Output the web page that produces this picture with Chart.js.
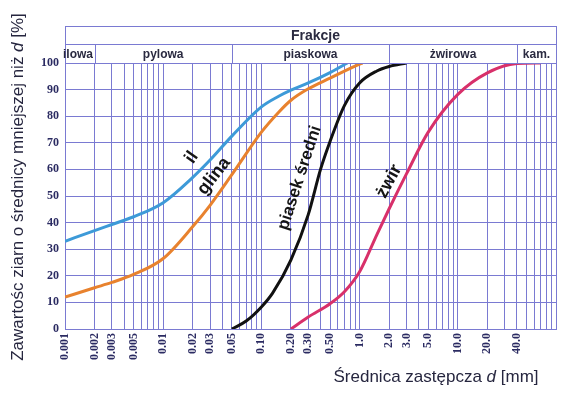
<!DOCTYPE html>
<html><head><meta charset="utf-8">
<script src="https://cdn.jsdelivr.net/npm/chart.js@4.4.1/dist/chart.umd.min.js"></script>
<style>html,body{margin:0;padding:0;background:#fff}#c{display:block}</style>
</head><body>
<canvas id="c" width="565" height="397"></canvas>
<script>
// ---- data ----
const ilD = [0.001,0.002,0.003,0.005,0.01,0.02,0.03,0.05,0.1,0.15,0.2,0.3,0.5,0.75];
const ilP = [33,37,39.3,42.2,47.5,57,63.5,72.5,83.5,87.5,89.8,92.5,96.4,100];
const glinaD = [0.001,0.002,0.003,0.005,0.01,0.02,0.03,0.05,0.1,0.15,0.2,0.3,0.5,1.0,1.07];
const glinaP = [12,15.5,17.5,20.5,26.5,38.5,46.5,58,74,81.5,86,90.3,94.3,99.6,100];
const piasekD = [0.05,0.07,0.1,0.13,0.2,0.3,0.4,0.5,0.7,1.0,1.5,2.0,3.0];
const piasekP = [0,3,8.3,13.5,26,43,60,70.5,84,92.5,97,98.7,100];
const zwirD = [0.2,0.3,0.5,0.7,1.0,1.5,2.0,3.0,5.0,10,20,40,70];
const zwirP = [0,4.5,9.5,14,21.5,35.5,45.2,58.3,74,88.2,96.3,99.8,100];
const seriesNames = ['il','glina','piasek średni','żwir'];
const xTickValues = [0.001,0.002,0.003,0.005,0.01,0.02,0.03,0.05,0.1,0.2,0.3,0.5,1,2,3,5,10,20,40];
const xTickLabels = ['0.001','0.002','0.003','0.005','0.01','0.02','0.03','0.05','0.10','0.20','0.30','0.50','1.0','2.0','3.0','5.0','10.0','20.0','40.0'];
const fractionBounds = [0.001,0.002,0.05,2,40,100];
const fractionNames = ['ilowa','pylowa','piaskowa','żwirowa','kam.'];
const headerTitle = 'Frakcje';
const yTitle = ['Zawartośc ziarn o średnicy mniejszej niż ','d',' [%]'];
const xTitle = ['Średnica zastępcza ','d',' [mm]'];
// label anchors (diameter, percent, angle)
const labelD = [0.0195,0.033,0.245,2.0];
const labelP = [64.5,57.5,56.8,55.5];
const labelAngle = [-55,-52,-72,-62];

const colors = ['#3d9ad8','#e8822e','#111111','#d8306a'];
const gridColor = '#7a7ad2';
const navy = '#2b2b62';

function pts(d,p){return d.map((v,i)=>({x:v,y:p[i]}));}
const allSeries = [[ilD,ilP],[glinaD,glinaP],[piasekD,piasekP],[zwirD,zwirP]];

// minor grid values 1..9 x decade
const gridVals=[];
for(let e=-3;e<=1;e++){for(let m=1;m<=9;m++){gridVals.push(parseFloat((m*Math.pow(10,e)).toPrecision(3)));}}
gridVals.push(100);

const overlay = {
  id:'overlay',
  afterDatasetsDraw(chart){
    const ctx=chart.ctx, xs=chart.scales.x, ys=chart.scales.y;
    ctx.save();
    ctx.fillStyle='#151515';
    for(let i=0;i<seriesNames.length;i++){
      const px=xs.getPixelForValue(labelD[i]), py=ys.getPixelForValue(labelP[i]);
      ctx.save();
      ctx.translate(px,py);
      ctx.rotate(labelAngle[i]*Math.PI/180);
      ctx.font='bold '+(i===2?17:18)+'px "Liberation Sans", Arial, sans-serif';
      ctx.textAlign='center';ctx.textBaseline='middle';
      ctx.fillText(seriesNames[i],0,0);
      ctx.restore();
    }
    ctx.restore();
  },
  afterDraw(chart){
    const ctx=chart.ctx, xs=chart.scales.x, a=chart.chartArea;
    ctx.save();
    // header box
    const top=a.top-37, mid=a.top-19;
    ctx.strokeStyle=gridColor;ctx.lineWidth=1;
    ctx.strokeRect(a.left+0.5,top+0.5,a.right-a.left,a.top-top);
    ctx.beginPath();ctx.moveTo(a.left,mid+0.5);ctx.lineTo(a.right,mid+0.5);ctx.stroke();
    for(let i=1;i<fractionBounds.length-1;i++){
      const x=Math.round(xs.getPixelForValue(fractionBounds[i]))+0.5;
      ctx.beginPath();ctx.moveTo(x,mid);ctx.lineTo(x,a.top);ctx.stroke();
    }
    ctx.fillStyle='#2a2a40';
    ctx.font='bold 14px "Liberation Sans", Arial, sans-serif';
    ctx.textAlign='center';ctx.textBaseline='middle';
    ctx.fillText(headerTitle,(a.left+a.right)/2+5,(top+mid)/2+1);
    ctx.font='bold 12px "Liberation Sans", Arial, sans-serif';
    for(let i=0;i<fractionNames.length;i++){
      const x0=xs.getPixelForValue(fractionBounds[i]), x1=xs.getPixelForValue(fractionBounds[i+1]);
      if(i===0){ctx.textAlign='left';ctx.fillText(fractionNames[i],x0-2,(mid+a.top)/2+1);ctx.textAlign='center';}
      else ctx.fillText(fractionNames[i],(x0+x1)/2,(mid+a.top)/2+1);
    }
    // titles with italic d
    function mixed(parts,x,y){
      const fonts=['17px "Liberation Sans", Arial, sans-serif','italic 17px "Liberation Sans", Arial, sans-serif','17px "Liberation Sans", Arial, sans-serif'];
      let w=0;const ws=[];
      parts.forEach((p,i)=>{ctx.font=fonts[i];const m=ctx.measureText(p).width;ws.push(m);w+=m;});
      let cx=x-w/2;
      ctx.textAlign='left';ctx.textBaseline='middle';
      parts.forEach((p,i)=>{ctx.font=fonts[i];ctx.fillText(p,cx,y);cx+=ws[i];});
    }
    ctx.fillStyle='#26263f';
    mixed(xTitle,436,377);
    ctx.save();ctx.translate(18,187);ctx.rotate(-Math.PI/2);
    mixed(yTitle,0,0);
    ctx.restore();
    ctx.restore();
  }
};

new Chart(document.getElementById('c'),{
  type:'line',
  data:{datasets:allSeries.map((s,i)=>({
    label:seriesNames[i],data:pts(s[0],s[1]),borderColor:colors[i],borderWidth:3,
    pointRadius:0,fill:false,cubicInterpolationMode:'monotone'
  }))},
  options:{
    responsive:false,animation:false,
    layout:{padding:{left:0,right:9,top:63,bottom:0}},
    plugins:{legend:{display:false},tooltip:{enabled:false}},
    scales:{
      x:{type:'logarithmic',min:0.001,max:100,
        afterBuildTicks(s){s.ticks=gridVals.map(v=>({value:v}));},
        afterFit(s){s.height=68;s.paddingRight=0;s.paddingLeft=0;},
        grid:{color:gridColor,lineWidth:1,drawTicks:false},
        border:{color:gridColor,width:1},
        ticks:{autoSkip:false,minRotation:90,maxRotation:90,padding:4,color:navy,
          font:{family:'"Liberation Serif", "Times New Roman", serif',size:12,weight:'bold'},
          callback(v){const i=xTickValues.findIndex(t=>Math.abs(t-v)/t<1e-6);return i>=0?xTickLabels[i]:'';}}
      },
      y:{min:0,max:100,
        afterFit(s){s.width=65;s.paddingTop=0;s.paddingBottom=0;},
        grid:{color:gridColor,lineWidth:1,drawTicks:false},
        border:{color:gridColor,width:1},
        ticks:{stepSize:10,padding:6,color:navy,
          font:{family:'"Liberation Serif", "Times New Roman", serif',size:12,weight:'bold'}}
      }
    }
  },
  plugins:[overlay]
});
</script>
</body></html>
